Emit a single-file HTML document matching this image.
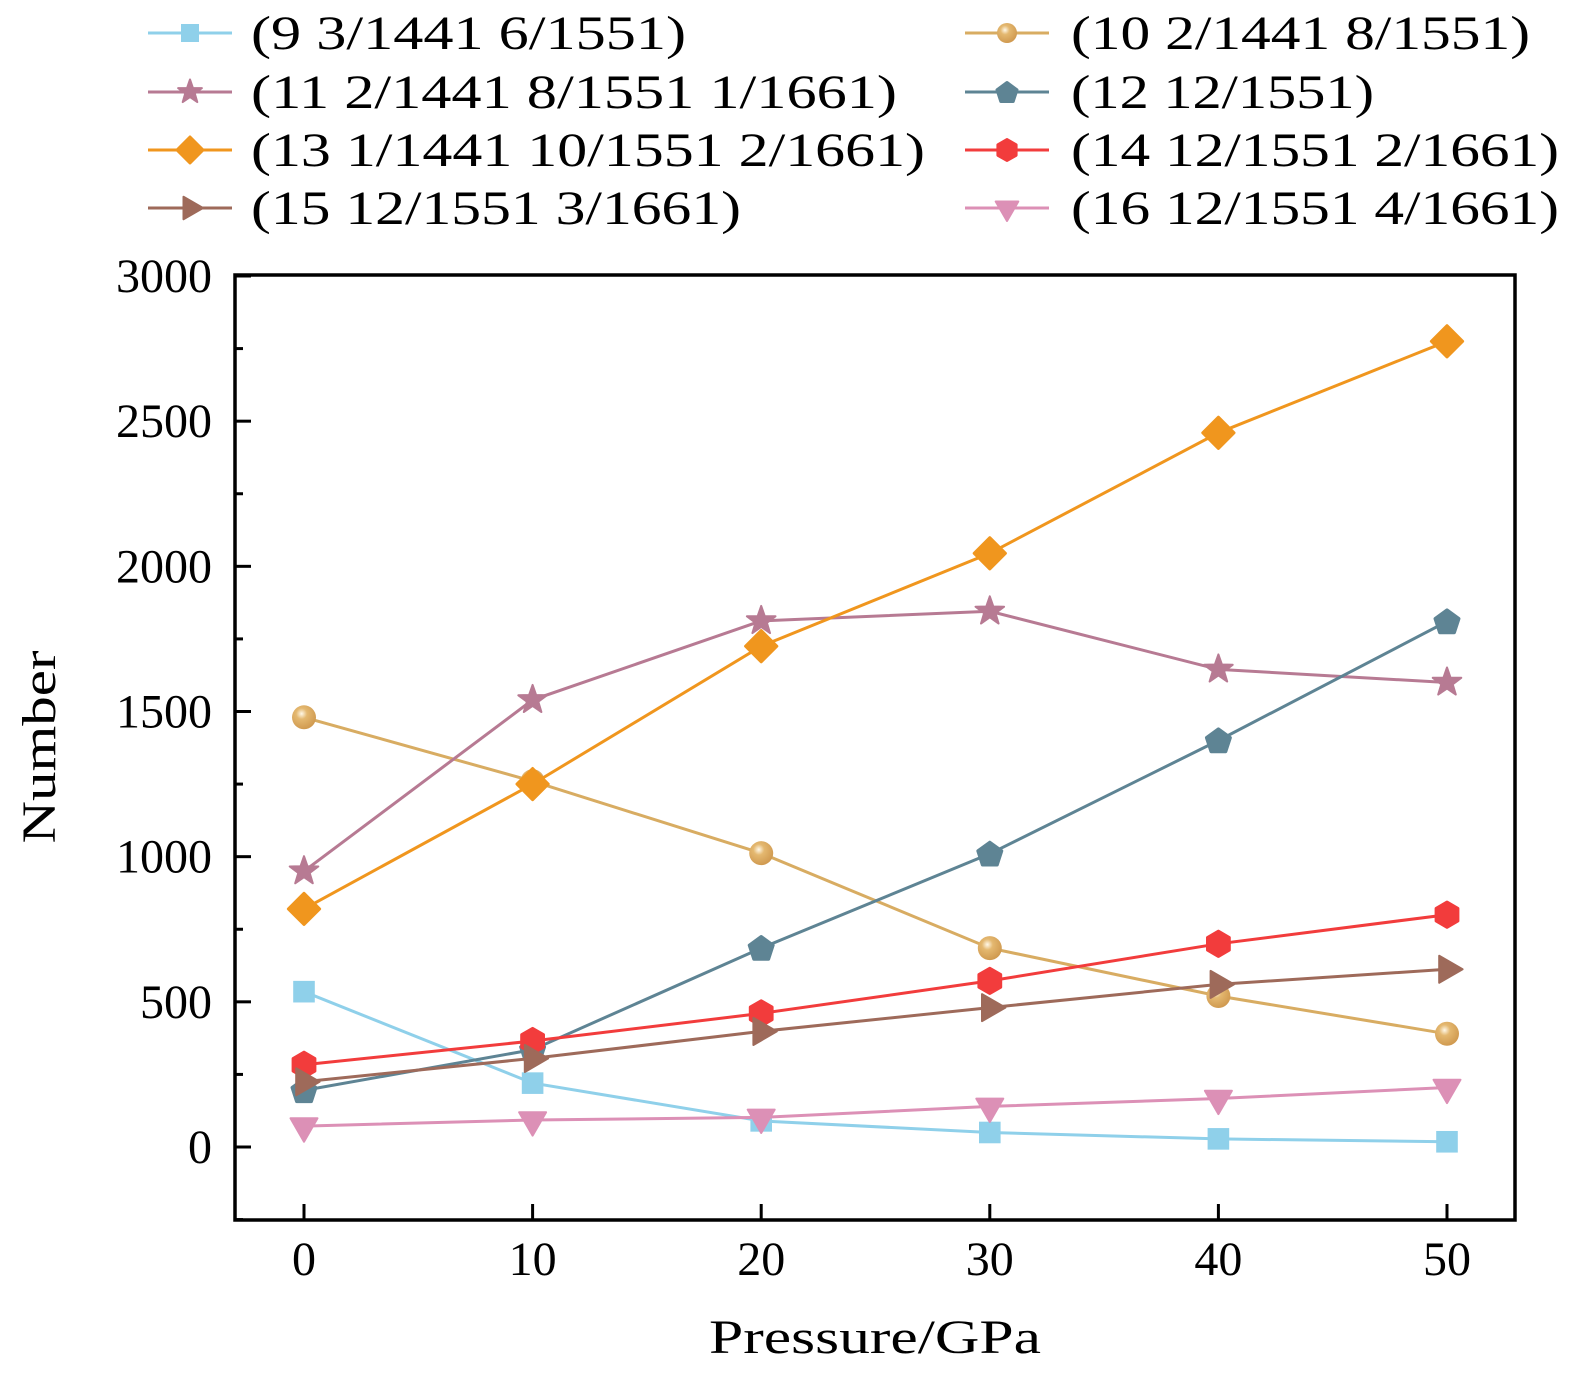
<!DOCTYPE html>
<html><head><meta charset="utf-8"><style>
html,body{margin:0;padding:0;background:#fff;}
svg text{font-family:"Liberation Serif","Times New Roman",serif;fill:#000;}
</style></head><body>
<svg id="chart" width="1575" height="1368" viewBox="0 0 1575 1368" xmlns="http://www.w3.org/2000/svg" font-family="Liberation Serif, Times New Roman, serif">
<defs>
<radialGradient id="ballg" cx="0.4" cy="0.35" r="0.65">
<stop offset="0" stop-color="#fff8e8"/><stop offset="0.35" stop-color="#e4b870"/><stop offset="1" stop-color="#d09a50"/>
</radialGradient>
</defs>
<g id="plot"></g>
<g id="legend"></g>
</svg>
<script>
const xValues = [0, 10, 20, 30, 40, 50];
const xTickLabels = ["0","10","20","30","40","50"];
const yTickValues = [0, 500, 1000, 1500, 2000, 2500, 3000];
const yTickLabels = ["0","500","1000","1500","2000","2500","3000"];
const s1 = [535, 220, 90, 50, 28, 18];
const s2 = [1480, 1260, 1012, 685, 520, 390];
const s3 = [950, 1540, 1812, 1845, 1645, 1600];
const s4 = [195, 335, 685, 1010, 1400, 1810];
const s5 = [820, 1250, 1725, 2045, 2460, 2775];
const s6 = [283, 365, 460, 572, 700, 800];
const s7 = [225, 305, 398, 480, 560, 612];
const s8 = [72, 93, 102, 140, 167, 205];
const seriesNames = ["(9 3/1441 6/1551)","(10 2/1441 8/1551)","(11 2/1441 8/1551 1/1661)","(12 12/1551)","(13 1/1441 10/1551 2/1661)","(14 12/1551 2/1661)","(15 12/1551 3/1661)","(16 12/1551 4/1661)"];

const NS="http://www.w3.org/2000/svg";
const L=235,R=1515,T=275,B=1220;
const X0=304,X50=1447,Y0=1147,Y3000=276;
function xs(v){return X0+(X50-X0)*v/50;}
function ys(v){return Y0+(Y3000-Y0)*v/3000;}
function mk(tag,attrs,parent){const e=document.createElementNS(NS,tag);for(const k in attrs)e.setAttribute(k,attrs[k]);parent.appendChild(e);return e;}
const plot=document.getElementById('plot');
const legend=document.getElementById('legend');

const series=[
 {d:s1,c:"#8fd0ea",m:"square"},
 {d:s2,c:"#d8ac62",m:"ball"},
 {d:s3,c:"#b77a93",m:"star"},
 {d:s4,c:"#5e8494",m:"pent"},
 {d:s5,c:"#f0961e",m:"diamond"},
 {d:s6,c:"#f23c3c",m:"hex"},
 {d:s7,c:"#9e6a5a",m:"tri-right"},
 {d:s8,c:"#dc90b6",m:"tri-down"}
];
function poly(cx,cy,r,n,rot){let p=[];for(let i=0;i<n;i++){const a=rot+i*2*Math.PI/n;p.push((cx+r*Math.cos(a)).toFixed(1)+","+(cy+r*Math.sin(a)).toFixed(1));}return p.join(" ");}
function marker(type,cx,cy,s,color,parent){
 let e;
 if(type==="square") e=mk('rect',{x:cx-s*0.9,y:cy-s*0.9,width:s*1.8,height:s*1.8,fill:color},parent);
 else if(type==="ball") e=mk('circle',{cx:cx,cy:cy,r:s,fill:"url(#ballg)"},parent);
 else if(type==="star"){let p=[];for(let i=0;i<10;i++){const a=-Math.PI/2+i*Math.PI/5;const r=i%2?s*0.5:s*1.25;p.push((cx+r*Math.cos(a)).toFixed(1)+","+(cy+r*Math.sin(a)).toFixed(1));}e=mk('polygon',{points:p.join(" "),fill:color,'stroke':color,'stroke-width':2,'stroke-linejoin':'round'},parent);}
 else if(type==="pent") e=mk('polygon',{points:poly(cx,cy+1,s*1.05,5,-Math.PI/2),fill:color,stroke:color,'stroke-width':3,'stroke-linejoin':'round'},parent);
 else if(type==="diamond") e=mk('polygon',{points:poly(cx,cy,s*1.3,4,0),fill:color,stroke:color,'stroke-width':3,'stroke-linejoin':'round'},parent);
 else if(type==="hex") e=mk('polygon',{points:poly(cx,cy,s*1.05,6,-Math.PI/2),fill:color,stroke:color,'stroke-width':3,'stroke-linejoin':'round'},parent);
 else if(type==="tri-right") e=mk('polygon',{points:poly(cx,cy,s*1.3,3,0),fill:color,stroke:color,'stroke-width':2,'stroke-linejoin':'round'},parent);
 else e=mk('polygon',{points:poly(cx,cy,s*1.3,3,Math.PI/2),fill:color,stroke:color,'stroke-width':2,'stroke-linejoin':'round'},parent);
 return e;
}

for(let i=0;i<xValues.length;i++){
 const x=xs(xValues[i]);
 const t=mk('line',{x1:x,y1:B,x2:x,y2:B-16,stroke:"#000",'stroke-width':3},plot);
 
 
 const lb=mk('text',{x:x,y:1275,'font-size':48,'text-anchor':'middle'},plot);
 lb.textContent=xTickLabels[i];
 
 
}
for(let v=-250;v<=3000;v+=250){
 const y=ys(v);
 const major=(v%500===0);
 const t=mk('line',{x1:L,y1:y,x2:L+(major?16:8),y2:y,stroke:"#000",'stroke-width':3},plot);
 
 
}
for(let i=0;i<yTickValues.length;i++){
 const lb=mk('text',{x:212,y:ys(yTickValues[i])+16,'font-size':48,'text-anchor':'end'},plot);
 lb.textContent=yTickLabels[i];
 
 
}
series.forEach((s,si)=>{
 const g=mk('g',{},plot);
 
 
 const pts=s.d.map((v,i)=>xs(xValues[i]).toFixed(1)+","+ys(v).toFixed(1)).join(" ");
 const pl=mk('polyline',{points:pts,fill:"none",stroke:s.c,'stroke-width':3},g);
 
 
 s.d.forEach((v,i)=>{
  const m=marker(s.m,xs(xValues[i]),ys(v),12,s.c,g);
  
  
 });
});
const fr=mk('rect',{x:L,y:T,width:R-L,height:B-T,fill:"none",stroke:"#000",'stroke-width':3.5},plot);


const xt=mk('text',{x:875,y:1353,'font-size':48,'text-anchor':'middle',textLength:332,lengthAdjust:'spacingAndGlyphs'},plot);
xt.textContent="Pressure/GPa";


const yt=mk('text',{x:0,y:0,'font-size':48,'text-anchor':'middle',transform:'translate(55,747) rotate(-90)',textLength:193,lengthAdjust:'spacingAndGlyphs'},plot);
yt.textContent="Number";


const rowsY=[33,92,150,208];
const leftEnds=[686,897,925,741];
const rightEnds=[1530,1374,1559,1559];
series.forEach((s,si)=>{
 const col=si%2, row=Math.floor(si/2);
 const y=rowsY[row];
 const lx=col?965:148, tx=col?1071:251;
 const end=col?rightEnds[row]:leftEnds[row];
 const g=mk('g',{},legend);
 
 
 mk('line',{x1:lx,y1:y,x2:lx+84,y2:y,stroke:s.c,'stroke-width':3},g);
 marker(s.m,lx+42,y,10,s.c,g);
 const t=mk('text',{x:tx,y:y+16,'font-size':48,textLength:end-tx,lengthAdjust:'spacingAndGlyphs'},g);
 t.textContent=seriesNames[si];
});
</script>
</body></html>
